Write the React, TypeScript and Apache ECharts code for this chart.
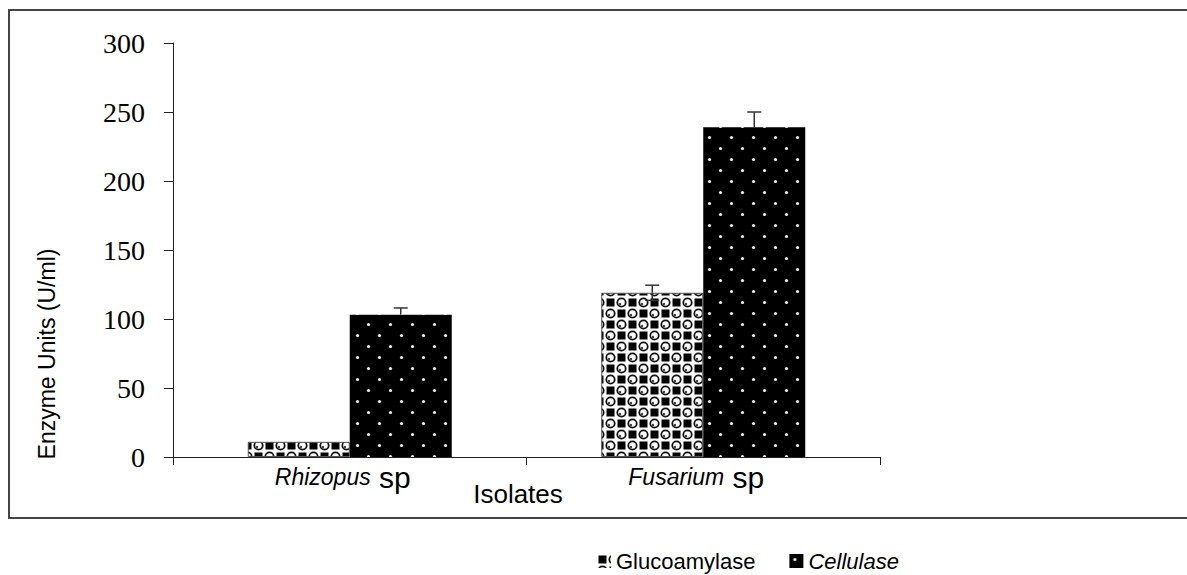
import React, { useEffect, useRef } from 'react';
import * as echarts from 'echarts';

const categories = ['Rhizopus', 'Fusarium'];
const seriesNames = ['Glucoamylase', 'Cellulase'];
const glucoamylase = [11, 119];
const cellulase = [103, 239];
const glucoamylaseErr = [0, 5.5];
const cellulaseErr = [5, 11];
const yMin = 0;
const yMax = 300;
const yStep = 50;

function makeDotTile(): HTMLCanvasElement {
  const c = document.createElement('canvas');
  c.width = 22; c.height = 22;
  const g = c.getContext('2d')!;
  g.fillStyle = '#000';
  g.fillRect(0, 0, 22, 22);
  g.fillStyle = '#eeeeee';
  g.beginPath(); g.arc(5.5, 5.5, 1.6, 0, Math.PI * 2); g.fill();
  g.beginPath(); g.arc(16.5, 16.5, 1.6, 0, Math.PI * 2); g.fill();
  return c;
}

function makeCheckTile(): HTMLCanvasElement {
  const c = document.createElement('canvas');
  c.width = 22; c.height = 22;
  const g = c.getContext('2d')!;
  g.fillStyle = '#fff';
  g.fillRect(0, 0, 22, 22);
  g.fillStyle = '#000';
  g.fillRect(1.5, 1.5, 8, 8);
  g.fillRect(12.5, 12.5, 8, 8);
  g.strokeStyle = '#111';
  g.lineWidth = 1.8;
  g.beginPath(); g.arc(16.5, 5.5, 4.2, 0, Math.PI * 2); g.stroke();
  g.beginPath(); g.arc(5.5, 16.5, 4.2, 0, Math.PI * 2); g.stroke();
  g.fillStyle = '#444';
  g.beginPath(); g.arc(15, 7, 1.2, 0, Math.PI * 2); g.fill();
  g.beginPath(); g.arc(4, 18, 1.2, 0, Math.PI * 2); g.fill();
  return c;
}

export default function App() {
  const ref = useRef<HTMLDivElement>(null);
  useEffect(() => {
    if (!ref.current) return;
    const chart = echarts.init(ref.current, null, { renderer: 'svg' });
    const dotTile = makeDotTile();
    const checkTile = makeCheckTile();
    const glucoColor: any = { image: checkTile, repeat: 'repeat', imageWidth: 22, imageHeight: 22 };
    const cellColor: any = { image: dotTile, repeat: 'repeat', imageWidth: 22, imageHeight: 22 };

    const errData: any[] = [];
    categories.forEach((_, i) => {
      if (glucoamylaseErr[i] > 0) errData.push([i, glucoamylase[i], glucoamylaseErr[i], -1]);
      if (cellulaseErr[i] > 0) errData.push([i, cellulase[i], cellulaseErr[i], 1]);
    });

    const option: any = {
      animation: false,
      backgroundColor: '#fff',
      grid: { left: 173, right: 307, top: 43, bottom: 118, containLabel: false },
      legend: {
        data: seriesNames,
        left: 597,
        top: 550,
        padding: 0,
        itemWidth: 14,
        itemHeight: 14,
        itemGap: 34,
        itemTextGap: 13,
        itemStyle: { borderWidth: 0 },
        icon: 'rect',
        textStyle: {
          fontFamily: 'Liberation Sans, Arial, sans-serif',
          fontSize: 22,
          lineHeight: 22,
          color: '#000',
          rich: { i: { fontStyle: 'italic', fontSize: 22, lineHeight: 22, fontFamily: 'Liberation Sans, Arial, sans-serif', color: '#000' } },
        },
        formatter: (name: string) => (name === 'Cellulase' ? `{i|${name}}` : name),
      },
      xAxis: {
        type: 'category',
        data: categories,
        axisLine: { lineStyle: { color: '#222', width: 1 } },
        axisTick: { show: true, length: 8, lineStyle: { color: '#222' } },
        axisLabel: {
          margin: 5,
          padding: [0, 14, 0, 0],
          formatter: (v: string) => `{i|${v}}{n| sp}`,
          rich: {
            i: { fontStyle: 'italic', fontSize: 23, fontFamily: 'Liberation Sans, Arial', color: '#000' },
            n: { fontSize: 30, fontFamily: 'Liberation Sans, Arial', color: '#000' },
          },
        },
      },
      yAxis: {
        type: 'value',
        min: yMin,
        max: yMax,
        interval: yStep,
        splitLine: { show: false },
        axisLine: { show: true, lineStyle: { color: '#222', width: 1 } },
        axisTick: { show: true, length: 9, lineStyle: { color: '#222' } },
        axisLabel: {
          margin: 28,
          fontFamily: 'Liberation Serif, Times New Roman, serif',
          fontSize: 28,
          color: '#000',
        },
      },
      graphic: [
        {
          type: 'rect',
          shape: { x: 9, y: 10, width: 1250, height: 508 },
          style: { fill: 'none', stroke: '#444', lineWidth: 2 },
          silent: true,
          z: -1,
        },
        {
          type: 'text',
          x: 47,
          y: 354,
          rotation: Math.PI / 2,
          style: {
            text: 'Enzyme Units (U/ml)',
            fontFamily: 'Liberation Sans, Arial, sans-serif',
            fontSize: 23,
            fill: '#000',
            align: 'center',
            verticalAlign: 'middle',
          },
        },
        {
          type: 'text',
          x: 518,
          y: 494,
          style: {
            text: 'Isolates',
            fontFamily: 'Liberation Sans, Arial',
            fontSize: 26,
            fill: '#000',
            align: 'center',
            verticalAlign: 'middle',
          },
        },
      ],
      series: [
        {
          name: 'Glucoamylase',
          type: 'bar',
          data: glucoamylase,
          barWidth: 102,
          barGap: '0%',
          itemStyle: { color: glucoColor, borderColor: '#555', borderWidth: 1 },
        },
        {
          name: 'Cellulase',
          type: 'bar',
          data: cellulase,
          barWidth: 102,
          barGap: '0%',
          itemStyle: { color: cellColor, borderWidth: 0 },
        },
        {
          type: 'custom',
          name: 'err',
          data: errData,
          encode: { x: 0, y: 1 },
          z: 10,
          renderItem: (params: any, api: any) => {
            const idx = api.value(0);
            const v = api.value(1);
            const e = api.value(2);
            const side = api.value(3);
            const base = api.coord([idx, v]);
            const cx = base[0] + side * 51;
            const top = api.coord([idx, v + e])[1];
            const bot = api.coord([idx, v - e])[1];
            const st = { stroke: '#333', lineWidth: 1.5 };
            const children: any[] = [
              { type: 'line', shape: { x1: cx, y1: top, x2: cx, y2: base[1] }, style: st },
              { type: 'line', shape: { x1: cx - 7, y1: top, x2: cx + 7, y2: top }, style: st },
            ];
            if (side < 0) {
              children.push({ type: 'line', shape: { x1: cx, y1: base[1], x2: cx, y2: bot }, style: st });
              children.push({ type: 'line', shape: { x1: cx - 7, y1: bot, x2: cx + 7, y2: bot }, style: st });
            }
            return { type: 'group', children };
          },
        },
      ],
    };
    chart.setOption(option);
    return () => chart.dispose();
  }, []);
  return <div ref={ref} style={{ position: 'fixed', left: 0, top: 0, width: 1187, height: 575 }} />;
}
